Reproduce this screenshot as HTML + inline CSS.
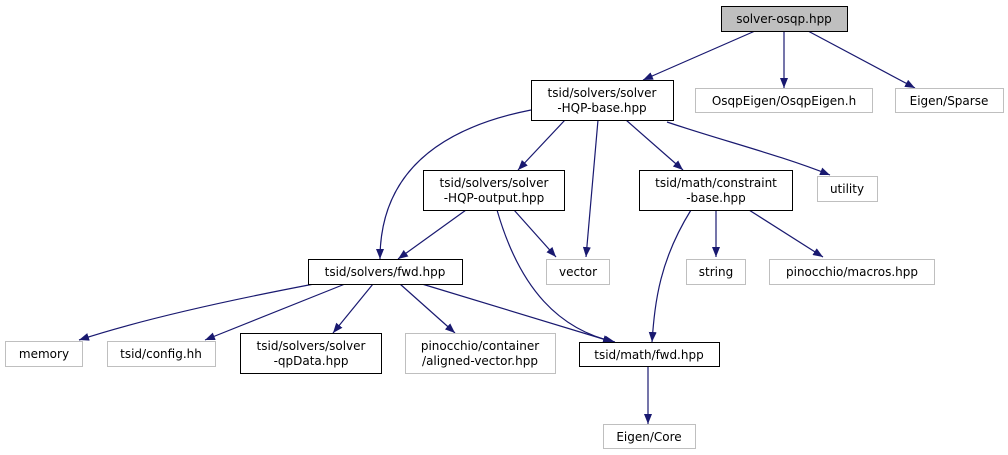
<!DOCTYPE html>
<html><head><meta charset="utf-8"><style>
html,body{margin:0;padding:0;background:#fff;width:1008px;height:455px;overflow:hidden}
svg text{font-family:"DejaVu Sans","Liberation Sans",sans-serif;font-size:12px;fill:#000;text-anchor:middle}
</style></head><body>
<svg width="1008" height="455" viewBox="0 0 1008 455" xmlns="http://www.w3.org/2000/svg">
<defs><marker id="a" markerWidth="10" markerHeight="8" refX="10" refY="4" orient="auto" markerUnits="userSpaceOnUse"><path d="M0,0 L10,4 L0,8 z" fill="#191970"/></marker></defs>
<g fill="none" stroke="#191970" stroke-width="1.2" marker-end="url(#a)">
<path d="M755,31 L643,80"/>
<path d="M784,31 L784,88"/>
<path d="M808,31 L915,88"/>
<path d="M531,110 C430,130 380,180 380,259"/>
<path d="M565,120 L518,170"/>
<path d="M598,120 L586,257"/>
<path d="M626,120 L683,170"/>
<path d="M667,122 C720,140 780,155 830,175"/>
<path d="M466,210 L398,259"/>
<path d="M514,210 L556,257"/>
<path d="M497,210 C520,290 560,330 615,342"/>
<path d="M691,210 C660,260 655,300 652,342"/>
<path d="M716,210 L716,257"/>
<path d="M749,210 L823,257"/>
<path d="M314,284 C230,300 140,320 79,340"/>
<path d="M345,284 L205,340"/>
<path d="M373,284 L333,333"/>
<path d="M400,284 L455,333"/>
<path d="M422,284 L613,342"/>
<path d="M648,366 L648,424"/>
</g>
<g stroke-width="1">
<rect x="721.5" y="6.5" width="126" height="25" fill="#bfbfbf" stroke="#000"/>
<rect x="531.5" y="80.5" width="142" height="40" fill="#fff" stroke="#000"/>
<rect x="695.5" y="88.5" width="177" height="24" fill="#fff" stroke="#bfbfbf"/>
<rect x="895.5" y="88.5" width="108" height="24" fill="#fff" stroke="#bfbfbf"/>
<rect x="423.5" y="170.5" width="141" height="40" fill="#fff" stroke="#000"/>
<rect x="639.5" y="170.5" width="153" height="40" fill="#fff" stroke="#000"/>
<rect x="817.5" y="176.5" width="60" height="25" fill="#fff" stroke="#bfbfbf"/>
<rect x="308.5" y="259.5" width="154" height="25" fill="#fff" stroke="#000"/>
<rect x="546.5" y="259.5" width="63" height="25" fill="#fff" stroke="#bfbfbf"/>
<rect x="686.5" y="259.5" width="59" height="25" fill="#fff" stroke="#bfbfbf"/>
<rect x="769.5" y="259.5" width="165" height="25" fill="#fff" stroke="#bfbfbf"/>
<rect x="5.5" y="341.5" width="77" height="25" fill="#fff" stroke="#bfbfbf"/>
<rect x="107.5" y="341.5" width="108" height="25" fill="#fff" stroke="#bfbfbf"/>
<rect x="240.5" y="333.5" width="141" height="40" fill="#fff" stroke="#000"/>
<rect x="405.5" y="333.5" width="150" height="40" fill="#fff" stroke="#bfbfbf"/>
<rect x="579.5" y="342.5" width="140" height="24" fill="#fff" stroke="#000"/>
<rect x="603.5" y="424.5" width="92" height="24" fill="#fff" stroke="#bfbfbf"/>
</g>
<text x="784" y="23">solver-osqp.hpp</text>
<text x="602" y="97">tsid/solvers/solver</text>
<text x="602" y="112">-HQP-base.hpp</text>
<text x="784" y="105">OsqpEigen/OsqpEigen.h</text>
<text x="949" y="105">Eigen/Sparse</text>
<text x="494" y="187">tsid/solvers/solver</text>
<text x="494" y="202">-HQP-output.hpp</text>
<text x="716" y="187">tsid/math/constraint</text>
<text x="716" y="202">-base.hpp</text>
<text x="847" y="193">utility</text>
<text x="385" y="276">tsid/solvers/fwd.hpp</text>
<text x="578" y="276">vector</text>
<text x="716" y="276">string</text>
<text x="852" y="276">pinocchio/macros.hpp</text>
<text x="44" y="358">memory</text>
<text x="161" y="358">tsid/config.hh</text>
<text x="311" y="350">tsid/solvers/solver</text>
<text x="311" y="365">-qpData.hpp</text>
<text x="480" y="350">pinocchio/container</text>
<text x="480" y="365">/aligned-vector.hpp</text>
<text x="649" y="359">tsid/math/fwd.hpp</text>
<text x="649" y="441">Eigen/Core</text>
</svg>
</body></html>
